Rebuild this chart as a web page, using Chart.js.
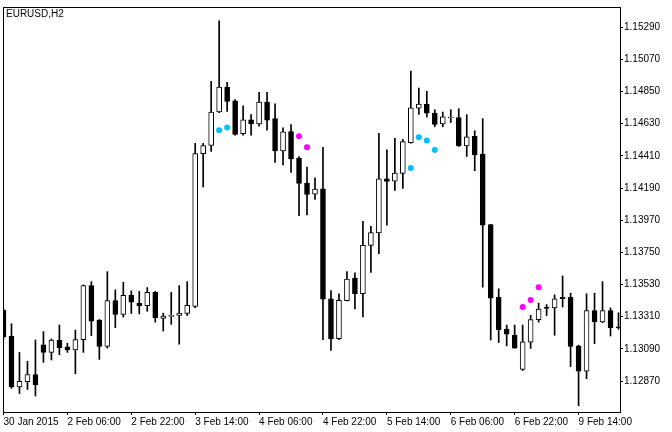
<!DOCTYPE html>
<html lang="en">
<head>
    <meta charset="UTF-8">
    <title>EURUSD,H2</title>
    <script src="https://cdn.jsdelivr.net/npm/chart.js"></script>
    <style>
        body {
            margin: 0;
            background: #fff;
        }

        canvas {
            display: block;
        }
    </style>
</head>
<body>
    <canvas id="priceChart" width="672" height="432"></canvas>

    <script>
        const symbol = 'EURUSD,H2';

        // one entry per H2 bar
        const open = [
            1.13354, 1.13178, 1.12829, 1.12866, 1.12915, 1.13118, 1.13066, 1.13149, 1.13104, 1.13082,
            1.13153, 1.13523, 1.13287, 1.13106, 1.13420, 1.13325, 1.13456, 1.13401, 1.13386, 1.13476,
            1.13298, 1.13312, 1.13318, 1.13332, 1.13381, 1.14426, 1.14481, 1.14710, 1.14881, 1.14787,
            1.14562, 1.14656, 1.14628, 1.14778, 1.14665, 1.14444, 1.14577, 1.14395, 1.14224, 1.14148,
            1.14185, 1.13433, 1.13160, 1.13420, 1.13575, 1.13467, 1.13798, 1.13883, 1.14253, 1.14237,
            1.14291, 1.14501, 1.14737, 1.14764, 1.14703, 1.14629, 1.14669, 1.14672, 1.14478, 1.14543,
            1.14422, 1.13940, 1.13442, 1.13226, 1.13183, 1.12949, 1.13136, 1.13289, 1.13376, 1.13370,
            1.13442, 1.13442, 1.13111, 1.12937, 1.13352, 1.13275, 1.13352, 1.13241
        ];
        const high = [
            1.13368, 1.13262, 1.13066, 1.13005, 1.13151, 1.13208, 1.13158, 1.13253, 1.13129, 1.13219,
            1.13528, 1.13550, 1.13291, 1.13618, 1.13494, 1.13545, 1.13487, 1.13483, 1.13510, 1.13483,
            1.13334, 1.13476, 1.13523, 1.13550, 1.14496, 1.14496, 1.14920, 1.15334, 1.14913, 1.14795,
            1.14753, 1.14692, 1.14845, 1.14845, 1.14766, 1.14602, 1.14624, 1.14405, 1.14334, 1.14260,
            1.14469, 1.13489, 1.13467, 1.13618, 1.13611, 1.13962, 1.13929, 1.14564, 1.14451, 1.14530,
            1.14523, 1.14991, 1.14874, 1.14852, 1.14726, 1.14710, 1.14726, 1.14733, 1.14692, 1.14582,
            1.14665, 1.13942, 1.13501, 1.13253, 1.13253, 1.13253, 1.13320, 1.13403, 1.13393, 1.13460,
            1.13589, 1.13471, 1.13116, 1.13467, 1.13471, 1.13550, 1.13370, 1.13337
        ];
        const low = [
            1.13158, 1.12820, 1.12785, 1.12812, 1.12768, 1.12998, 1.13014, 1.13050, 1.13066, 1.12920,
            1.13066, 1.13181, 1.13018, 1.13095, 1.13235, 1.13307, 1.13332, 1.13329, 1.13347, 1.13273,
            1.13212, 1.13258, 1.13122, 1.13318, 1.13371, 1.14197, 1.14440, 1.14706, 1.14714, 1.14552,
            1.14552, 1.14552, 1.14614, 1.14586, 1.14366, 1.14349, 1.14297, 1.14001, 1.14006, 1.14113,
            1.13153, 1.13079, 1.13153, 1.13418, 1.13363, 1.13309, 1.13613, 1.13741, 1.13937, 1.14174,
            1.14187, 1.14497, 1.14694, 1.14676, 1.14609, 1.14609, 1.14638, 1.14474, 1.14406, 1.14309,
            1.13512, 1.13151, 1.13133, 1.13111, 1.13094, 1.12942, 1.13093, 1.13273, 1.13318, 1.13183,
            1.13376, 1.12969, 1.12701, 1.12886, 1.13126, 1.13268, 1.13178, 1.13224
        ];
        const close = [
            1.13172, 1.12829, 1.12868, 1.12915, 1.12843, 1.13066, 1.13151, 1.13099, 1.13082, 1.13153,
            1.13523, 1.13280, 1.13106, 1.13420, 1.13325, 1.13456, 1.13410, 1.13383, 1.13476, 1.13303,
            1.13314, 1.13314, 1.13334, 1.13388, 1.14426, 1.14481, 1.14710, 1.14881, 1.14782, 1.14557,
            1.14656, 1.14628, 1.14778, 1.14654, 1.14444, 1.14575, 1.14390, 1.14221, 1.14147, 1.14183,
            1.13430, 1.13160, 1.13422, 1.13568, 1.13467, 1.13798, 1.13886, 1.14253, 1.14235, 1.14293,
            1.14508, 1.14739, 1.14764, 1.14703, 1.14626, 1.14678, 1.14671, 1.14478, 1.14541, 1.14417,
            1.13937, 1.13437, 1.13221, 1.13190, 1.13095, 1.13138, 1.13291, 1.13363, 1.13366, 1.13433,
            1.13433, 1.13106, 1.12937, 1.13352, 1.13275, 1.13352, 1.13235, 1.13233
        ];

        // indicator dots (bar index, price)
        const upDotBars = [27, 28, 51, 52, 53, 54];
        const upDotPrices = [1.14586, 1.14604, 1.14327, 1.14537, 1.14516, 1.14451];
        const downDotBars = [37, 38, 65, 66, 67];
        const downDotPrices = [1.14545, 1.14469, 1.13376, 1.13424, 1.13512];

        // a time label every 8 bars
        const timeLabels = ['30 Jan 2015', '2 Feb 06:00', '2 Feb 22:00', '3 Feb 14:00', '4 Feb 06:00',
            '4 Feb 22:00', '5 Feb 14:00', '6 Feb 06:00', '6 Feb 22:00', '9 Feb 14:00'];
        const priceTicks = [1.12870, 1.13090, 1.13310, 1.13530, 1.13750, 1.13970,
            1.14190, 1.14410, 1.14630, 1.14850, 1.15070, 1.15290];

        const font = { family: '"Liberation Sans", Arial, sans-serif', size: 10 };

        const bodies = open.map((o, i) => ({ x: i, y: [o, close[i]] }));
        const wicks = high.map((h, i) => ({ x: i, y: [low[i], h] }));
        const bodyColors = open.map((o, i) => close[i] >= o ? '#ffffff' : '#000000');
        const upDots = upDotBars.map((b, i) => ({ x: b, y: upDotPrices[i] }));
        const downDots = downDotBars.map((b, i) => ({ x: b, y: downDotPrices[i] }));

        // frame round the plot and the symbol caption
        const frame = {
            id: 'frame',
            afterDraw(chart) {
                const { ctx, chartArea: a } = chart;
                ctx.save();
                ctx.strokeStyle = '#000';
                ctx.lineWidth = 1;
                ctx.strokeRect(a.left + 0.5, a.top + 0.5, a.right - a.left, a.bottom - a.top);
                ctx.fillStyle = '#000';
                ctx.font = '10px ' + font.family;
                ctx.textBaseline = 'top';
                ctx.fillText(symbol, a.left + 3, a.top + 2);
                ctx.restore();
            }
        };

        const ctx = document.getElementById('priceChart').getContext('2d');
        const priceChart = new Chart(ctx, {
            type: 'bar',
            data: {
                datasets: [
                    {
                        type: 'line',
                        label: 'up',
                        data: upDots,
                        showLine: false,
                        pointRadius: 3,
                        pointHoverRadius: 3,
                        pointBorderWidth: 0,
                        pointBackgroundColor: '#00bfff'
                    },
                    {
                        type: 'line',
                        label: 'down',
                        data: downDots,
                        showLine: false,
                        pointRadius: 3,
                        pointHoverRadius: 3,
                        pointBorderWidth: 0,
                        pointBackgroundColor: '#ff00ff'
                    },
                    {
                        label: 'body',
                        data: bodies,
                        backgroundColor: bodyColors,
                        borderColor: '#000000',
                        borderWidth: 1,
                        borderSkipped: false,
                        barThickness: 5,
                        minBarLength: 1,
                        grouped: false
                    },
                    {
                        label: 'wick',
                        data: wicks,
                        backgroundColor: '#000000',
                        borderWidth: 0,
                        barThickness: 1,
                        grouped: false
                    }
                ]
            },
            options: {
                responsive: false,
                animation: false,
                layout: { padding: { left: 2, top: 2, right: 0, bottom: 0 } },
                scales: {
                    x: {
                        type: 'linear',
                        min: -0.0625,
                        max: 77.1875,
                        offset: false,
                        grid: { drawOnChartArea: false, offset: false, color: '#000', tickLength: 3 },
                        border: { display: true, color: '#000' },
                        ticks: {
                            color: '#000',
                            font: font,
                            align: 'start',
                            maxRotation: 0,
                            autoSkip: false,
                            padding: 1,
                            callback: v => timeLabels[v / 8]
                        },
                        afterBuildTicks: s => { s.ticks = timeLabels.map((_, i) => ({ value: i * 8 })); },
                        afterFit: s => { s.height = 20; }
                    },
                    y: {
                        position: 'right',
                        min: 1.126582,
                        max: 1.154285,
                        beginAtZero: false,
                        grid: { drawOnChartArea: false, color: '#000', tickLength: 3 },
                        border: { display: true, color: '#000' },
                        ticks: {
                            color: '#000',
                            font: font,
                            padding: 1,
                            callback: v => v.toFixed(5)
                        },
                        afterBuildTicks: s => { s.ticks = priceTicks.map(v => ({ value: v })); },
                        afterFit: s => { s.width = 52; }
                    }
                },
                plugins: {
                    legend: { display: false },
                    tooltip: { enabled: false }
                }
            },
            plugins: [frame]
        });
    </script>
</body>
</html>
